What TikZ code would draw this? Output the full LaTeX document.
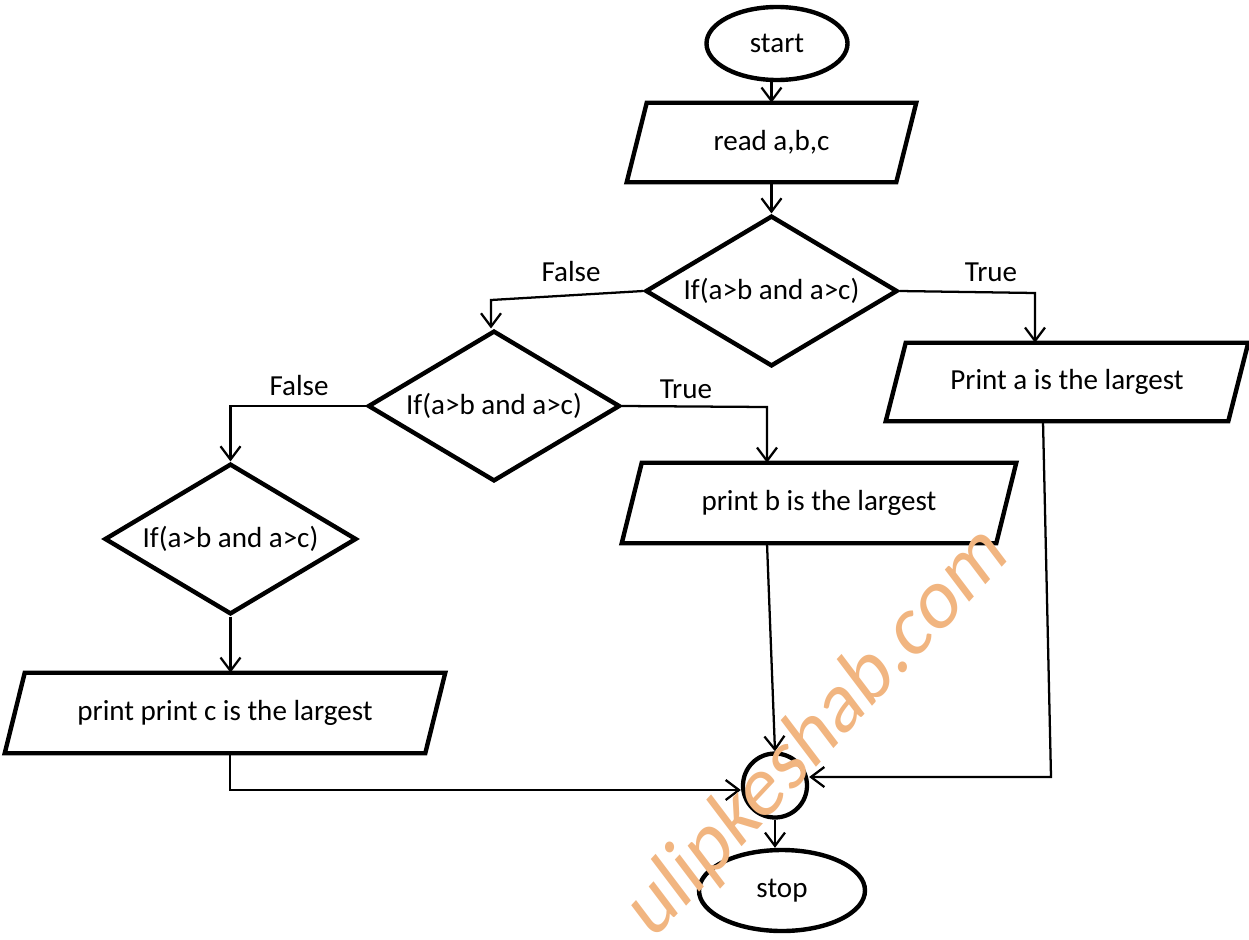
\documentclass[tikz,border=0pt]{standalone}
\usepackage{fontspec}
\setmainfont{Carlito}
\usetikzlibrary{shapes.geometric,arrows.meta,calc}
\definecolor{wm}{RGB}{241,181,128}
\newcommand\iodraw[2]{\draw[shapeline] ($(#1.north west)+(#2,0)$) -- ($(#1.north east)+(#2,0)$) -- ($(#1.south east)-(#2,0)$) -- ($(#1.south west)-(#2,0)$) -- cycle;}
\begin{document}
\begin{tikzpicture}[x=0.75pt,y=-0.75pt,
  shapeline/.style={draw, line width=3.3pt, line join=miter},
  conn/.style={line width=1.7pt, -{Straight Barb[length=10pt,width=15pt,line width=1.7pt]}},
  lbl/.style={font=\fontsize{21.8}{26}\selectfont, inner sep=0pt},
  term/.style={ellipse, shapeline, lbl},
  dec/.style={diamond, shapeline, lbl, aspect=1.66}]
\useasboundingbox (0,0) rectangle (1249,939);
\clip (0,0) rectangle (1249,939);

% terminals
\node[term, minimum width=105.75pt, minimum height=54.75pt] (start) at (777,43.5) {start};
\node[term, minimum width=124.5pt, minimum height=60.75pt] (stop) at (782,890.5) {stop};
\node[circle, draw, line width=3.2pt, minimum size=48pt, inner sep=0pt] (jn) at (775,785.5) {};

% decisions
\node[dec, minimum width=189pt, minimum height=113pt] (d1) at (771.5,291) {If(a>b and a>c)};
\node[dec, minimum width=189pt, minimum height=113pt] (d2) at (494,406) {If(a>b and a>c)};
\node[dec, minimum width=189pt, minimum height=113pt] (d3) at (230.5,539) {If(a>b and a>c)};

% input / output boxes
\node[lbl, minimum width=201.75pt, minimum height=59.25pt] (read) at (771.5,142.5) {read a,b,c};
\iodraw{read}{10}
\node[lbl, minimum width=256.5pt, minimum height=58.5pt] (pa) at (1067,382) {Print a is the largest};
\iodraw{pa}{10}
\node[lbl, minimum width=280.5pt, minimum height=60pt] (pb) at (819,503) {print b is the largest};
\iodraw{pb}{10}
\node[lbl, minimum width=315pt, minimum height=60pt] (pc) at (225,713) {print print c is the largest};
\iodraw{pc}{10}

% branch labels
\node[lbl, anchor=base] (fl1) at (571,281) {False};
\node[lbl, anchor=base] (tr1) at (991,281) {True};
\node[lbl, anchor=base] (fl2) at (299,395) {False};
\node[lbl, anchor=base] (tr2) at (686,398) {True};

% connectors
\draw[conn] (start.south -| read.north) -- (read.north);
\draw[conn] (read.south) -- (d1.north);
\coordinate (f1) at (491,300);
\draw[conn] (d1.west) -- (f1) -- (f1 |- d2.north);
\coordinate (t1) at (1035,293);
\draw[conn] (d1.east) -- (t1) -- (t1 |- pa.north);
\draw[conn] (d2.west) -- (d2.west -| d3.north) -- (d3.north);
\coordinate (t2) at (767,407);
\draw[conn] (d2.east) -- (t2) -- (t2 |- pb.north);
\draw[conn] (d3.south) -- (d3.south |- pc.north);
\coordinate (c1) at (230,790);
\draw[conn] (c1 |- pc.south) -- (c1) -- (c1 -| jn.west);
\draw[conn] (t2 |- pb.south) -- (jn.north);
\coordinate (r1) at (1051,777);
\draw[conn] ($(pa.south)+(-24,0)$) -- (r1) -- (r1 -| jn.east);
\draw[conn] (jn.south) -- (jn.south |- stop.north);

% watermark
\begin{scope}[shift={(832,750)}, yscale=1.19, rotate=42]
\node[transform shape, font=\fontsize{57}{57}\selectfont, text=wm, anchor=base, inner sep=0pt] (wmark) at (0,0) {ulipkeshab.com};
\end{scope}
\end{tikzpicture}
\end{document}
